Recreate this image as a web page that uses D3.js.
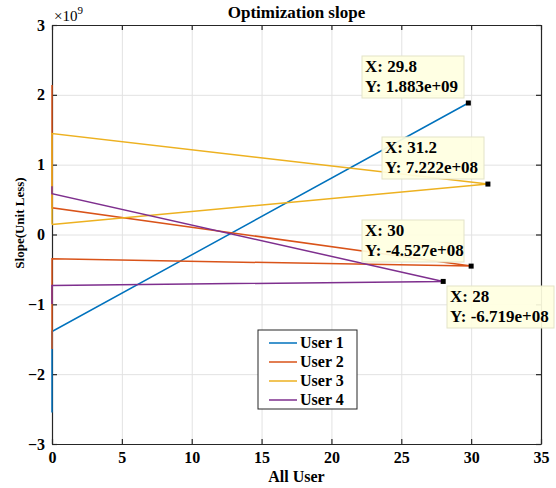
<!DOCTYPE html>
<html>
<head>
<meta charset="utf-8">
<script src="https://cdn.jsdelivr.net/npm/d3@7"></script>
<style>
  body { margin: 0; background: #fff; }
  svg text { font-family: "Liberation Serif", "Times New Roman", serif; font-weight: bold; fill: #000; }
  .grid line { stroke: #e2e2e2; stroke-width: 1; }
  .grid path { display: none; }
  .axis path, .axis line { stroke: #262626; stroke-width: 1.2; }
</style>
</head>
<body>
<svg width="556" height="488"></svg>
<script>
// data
var users  = ["User 1", "User 2", "User 3", "User 4"];
var colors = ["#0072BD", "#D95319", "#EDB120", "#7E2F8E"];
var user1X = [0, 0, 29.8],           user1Y = [-2.55, -1.39, 1.883];
var user2X = [0, 0, 30, 0, 0],       user2Y = [2.14, 0.383, -0.4527, -0.349, -1.64];
var user3X = [0, 0, 31.2, 0],        user3Y = [0.143, 1.445, 0.7222, 0.143];
var user4X = [0, 0, 28, 0, 0],       user4Y = [0.69, 0.584, -0.6719, -0.73, -0.995];
var xTicks = [0, 5, 10, 15, 20, 25, 30, 35];
var yTicks = [-3, -2, -1, 0, 1, 2, 3];
// data tips: x, y (units of 1e9), label
var tipX = [29.8, 31.2, 30, 28];
var tipY = [1.883, 0.7222, -0.4527, -0.6719];
var tipText = [["X: 29.8", "Y: 1.883e+09"], ["X: 31.2", "Y: 7.222e+08"],
               ["X: 30", "Y: -4.527e+08"], ["X: 28", "Y: -6.719e+08"]];

var svg = d3.select("svg"),
    pLeft = 52, pRight = 541, pTop = 25, pBottom = 444,
    w = pRight - pLeft, h = pBottom - pTop;

var x = d3.scaleLinear().domain([0, 35]).range([pLeft, pRight]);
var y = d3.scaleLinear().domain([-3, 3]).range([pBottom, pTop]);

// grid
svg.append("g").attr("class", "grid")
   .attr("transform", "translate(0," + pBottom + ")")
   .call(d3.axisBottom(x).tickValues(xTicks).tickSize(-h).tickFormat(""));
svg.append("g").attr("class", "grid")
   .attr("transform", "translate(" + pLeft + ",0)")
   .call(d3.axisLeft(y).tickValues(yTicks).tickSize(-w).tickFormat(""));

// axes (ticks inward, box)
svg.append("g").attr("class", "axis")
   .attr("transform", "translate(0," + pBottom + ")")
   .call(d3.axisBottom(x).tickValues(xTicks).tickSize(-5).tickSizeOuter(0).tickPadding(8));
svg.append("g").attr("class", "axis")
   .attr("transform", "translate(0," + pTop + ")")
   .call(d3.axisTop(x).tickValues(xTicks).tickSize(-5).tickSizeOuter(0).tickFormat(""));
svg.append("g").attr("class", "axis")
   .attr("transform", "translate(" + pLeft + ",0)")
   .call(d3.axisLeft(y).tickValues(yTicks).tickSize(-5).tickSizeOuter(0).tickPadding(7).tickFormat(d3.format("d")));
svg.append("g").attr("class", "axis")
   .attr("transform", "translate(" + pRight + ",0)")
   .call(d3.axisRight(y).tickValues(yTicks).tickSize(-5).tickSizeOuter(0).tickFormat(""));
svg.selectAll(".axis text").style("font-size", "16px")
   .style("font-family", "Liberation Serif").style("font-weight", "bold").attr("fill", "#000");

// lines (drawn over the axis, as in the original)
var series = [[user1X, user1Y], [user2X, user2Y], [user3X, user3Y], [user4X, user4Y]];
var line = d3.line().x(function(d){ return x(d[0]); }).y(function(d){ return y(d[1]); });
series.forEach(function(s, i) {
  var pts = s[0].map(function(v, j){ return [v, s[1][j]]; });
  svg.append("path")
     .attr("d", line(pts))
     .attr("fill", "none")
     .attr("stroke", colors[i])
     .attr("stroke-width", 1.5);
});

// exponent label
var ex = svg.append("text").attr("x", 54).attr("y", 21).style("font-size", "15px").style("font-weight", "normal");
ex.append("tspan").text("\u00d710");
ex.append("tspan").attr("dy", -7).style("font-size", "11px").text("9");

// titles
svg.append("text").attr("x", (pLeft + pRight) / 2).attr("y", 18)
   .attr("text-anchor", "middle").style("font-size", "17px").text("Optimization slope");
svg.append("text").attr("x", (pLeft + pRight) / 2).attr("y", 482)
   .attr("text-anchor", "middle").style("font-size", "16px").text("All User");
svg.append("text").attr("transform", "translate(24,223) rotate(-90)")
   .attr("text-anchor", "middle").style("font-size", "13px").text("Slope(Unit Less)");

// data tips
var tipBox = [[362, 56], [382, 137], [362, 220], [447, 286]];
tipX.forEach(function(tx, i) {
  svg.append("rect")
     .attr("x", x(tx) - 2.5).attr("y", y(tipY[i]) - 2.5)
     .attr("width", 5).attr("height", 5).attr("fill", "#000");
  var g = svg.append("g").attr("transform", "translate(" + tipBox[i][0] + "," + tipBox[i][1] + ")");
  var bw = (i === 3) ? 107 : 102;
  g.append("rect").attr("width", bw).attr("height", 42)
   .attr("fill", "#ffffe1").attr("fill-opacity", 0.92).attr("stroke", "#e3e3c8").attr("stroke-width", 1);
  tipText[i].forEach(function(t, j) {
    g.append("text").attr("x", 3).attr("y", 16 + j * 20).style("font-size", "17px").text(t);
  });
});

// legend
var lg = svg.append("g").attr("transform", "translate(258,330)");
lg.append("rect").attr("width", 99).attr("height", 79)
  .attr("fill", "#fff").attr("stroke", "#262626").attr("stroke-width", 1);
users.forEach(function(u, i) {
  var yy = 13 + i * 19;
  lg.append("line").attr("x1", 11).attr("x2", 39).attr("y1", yy).attr("y2", yy)
    .attr("stroke", colors[i]).attr("stroke-width", 1.5);
  lg.append("text").attr("x", 42).attr("y", yy + 5).style("font-size", "16px").text(u);
});
</script>
</body>
</html>
